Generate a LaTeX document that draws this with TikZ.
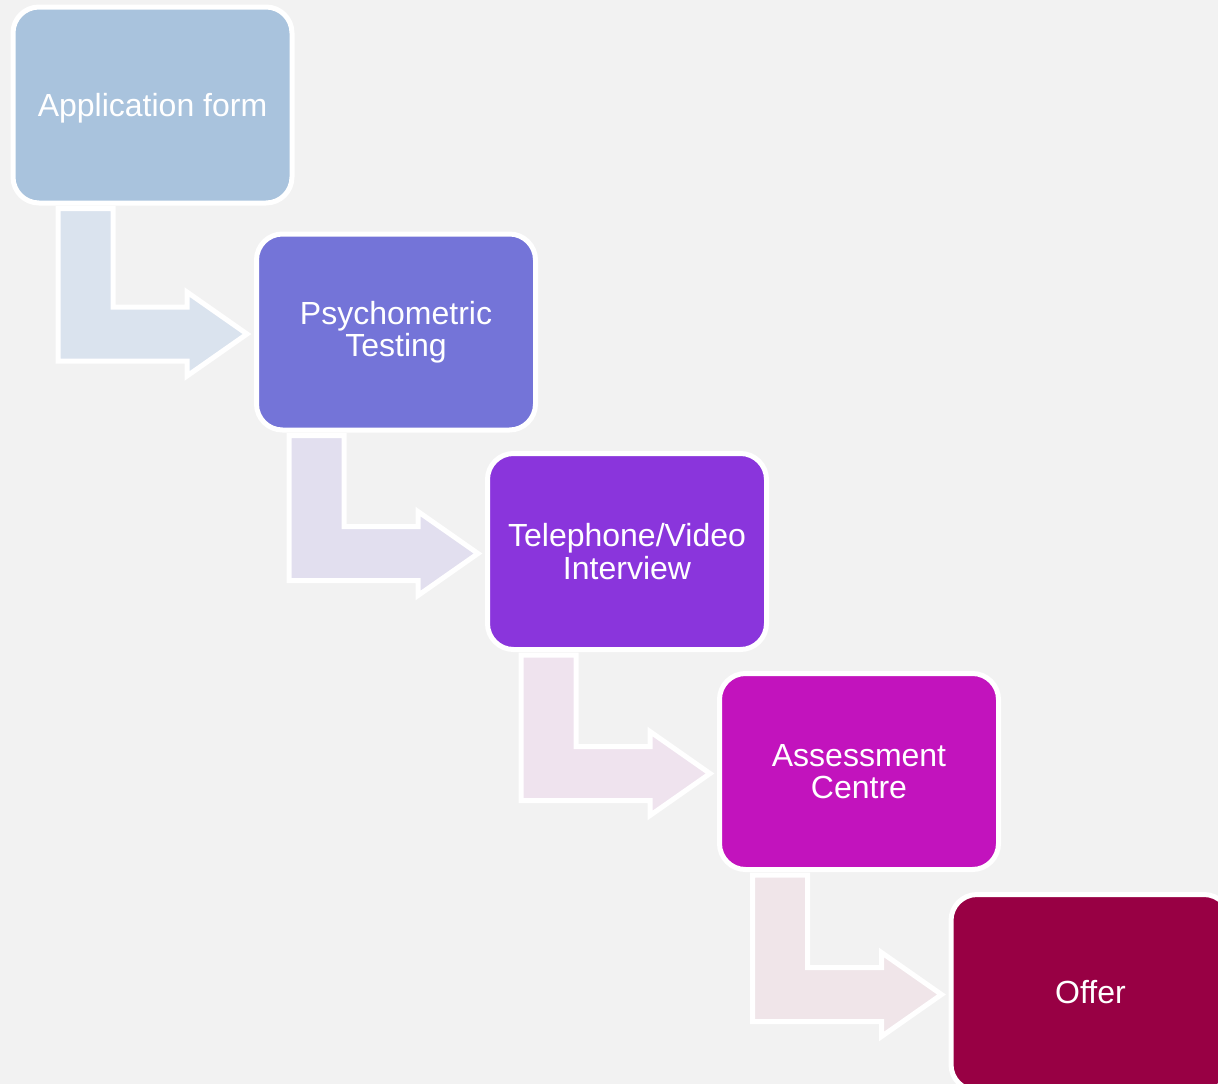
\documentclass[tikz,border=0pt]{standalone}
\usepackage{fontspec}
\setmainfont{Liberation Sans}
\usetikzlibrary{calc}
\definecolor{bggray}{HTML}{F2F2F2}
\definecolor{boxapp}{HTML}{A9C3DD}
\definecolor{boxpsy}{HTML}{7474D8}
\definecolor{boxtel}{HTML}{8A35DC}
\definecolor{boxass}{HTML}{C213BD}
\definecolor{boxoff}{HTML}{980044}
\definecolor{arrowapp}{HTML}{DAE3EE}
\definecolor{arrowpsy}{HTML}{E2DFEF}
\definecolor{arrowtel}{HTML}{EFE3EE}
\definecolor{arrowass}{HTML}{F0E5E9}

\begin{document}
\begin{tikzpicture}[x=1pt,y=-1pt,
  stagebox/.style={draw=white,line width=5pt,rounded corners=26pt,
    minimum width=279pt,minimum height=196pt,inner sep=0pt,
    align=center,text=white,font=\fontsize{32}{32.5}\selectfont},
  flowarrow/.style={draw=white,line width=5pt}]
  \useasboundingbox (0,0) rectangle (1218,1084);
  \fill[bggray] (0,0) rectangle (1218,1084);
  \clip (0,0) rectangle (1218,1084);
  \node[stagebox,fill=boxapp,text depth=0pt] (app) at (152.5,105) {Application form};
  \node[stagebox,fill=boxpsy] (psy) at (396,332) {Psychometric\\Testing};
  \node[stagebox,fill=boxtel] (tel) at (627,551.5) {Telephone/Video\\Interview};
  \node[stagebox,fill=boxass] (ass) at (859,771.5) {Assessment\\Centre};
  \node[stagebox,fill=boxoff] (off) at (1090.5,992.5) {Offer};
  \foreach \src/\dst/\col in {app/psy/arrowapp,psy/tel/arrowpsy,tel/ass/arrowtel,ass/off/arrowass} {
    \coordinate (bar) at ($(\dst.center)+(-338,0)$);
    \coordinate (top) at ([yshift=-3pt]\src.south);
    \draw[flowarrow,fill=\col] (bar |- top) -- ++(55,0)
      -- ($(\dst.center)+(-283,-25)$) -- ++(74,0) -- ++(0,-15)
      -- ($(\dst.center)+(-149,2)$) -- ($(\dst.center)+(-209,44)$)
      -- ++(0,-15) -- ($(\dst.center)+(-338,29)$) -- cycle;
  }
\end{tikzpicture}
\end{document}
